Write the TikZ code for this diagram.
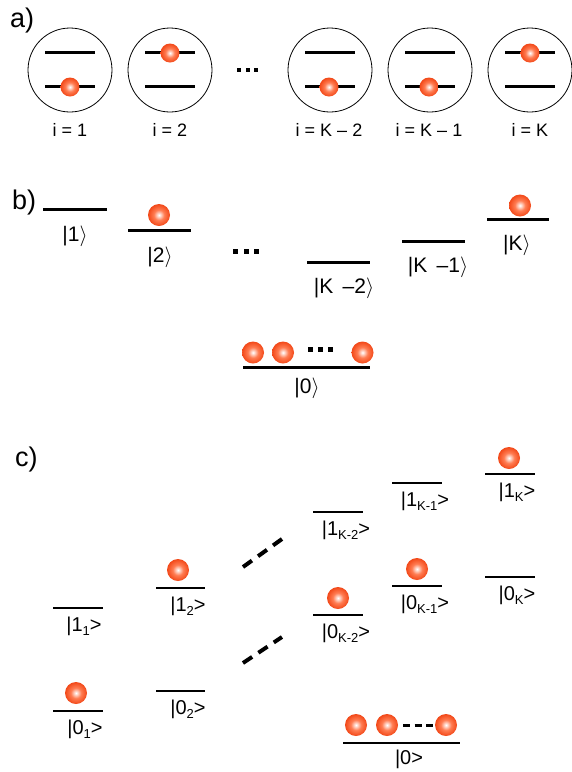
\documentclass[tikz,border=0pt]{standalone}
\usepackage{fontspec}
\setmainfont{Liberation Sans}
\definecolor{ballA}{HTML}{FF7C52}
\definecolor{ballB}{HTML}{F24818}
\pgfdeclareradialshading{orb}{\pgfpoint{0bp}{0bp}}{color(0bp)=(white); color(2bp)=(white!85!ballA); color(12bp)=(ballA); color(25bp)=(ballB); color(50bp)=(ballB)}
\newcommand{\sbs}[1]{\raisebox{-4pt}{\fontsize{13}{13}\selectfont #1}}
\begin{document}
\begin{tikzpicture}[x=1pt,y=-1pt,
  lab/.style={font=\fontsize{18}{18}\selectfont, inner sep=0pt, anchor=base},
  ket/.style={font=\fontsize{20}{20}\selectfont, inner sep=0pt, anchor=base},
  ketb/.style={font=\fontsize{21}{21}\selectfont, inner sep=0pt, anchor=base},
  panel/.style={font=\fontsize{27}{27}\selectfont, inner sep=0pt, anchor=base west},
  atom/.style={circle, draw, line width=0.8pt, minimum size=84pt, inner sep=0pt},
  lvla/.style={line width=2.5pt},
  lvlb/.style={line width=3pt},
  lvlc/.style={line width=1.7pt},
  ball/.style={circle, inner sep=0pt, minimum size=22pt, shading=orb},
  sball/.style={circle, inner sep=0pt, minimum size=19pt, shading=orb},
  sq/.style={rectangle, fill=black, inner sep=0pt, minimum size=#1},
  sq/.default=5pt
]
\useasboundingbox (0,0) rectangle (571,772);

% ---------------- panel a ----------------
\node[panel] (pa) at (10,27) {a)};
\foreach \cx/\nm in {70/a1,170/a2,330/a3,430/a4,530/a5}{
  \node[atom] (\nm) at (\cx,70) {};
  \draw[lvla] (\cx-25,52.7) -- (\cx+25,52.7);
  \draw[lvla] (\cx-25,86.7) -- (\cx+25,86.7);
}
\node[sball] (ba1) at (70,87) {};
\node[sball] (ba2) at (170,53) {};
\node[sball] (ba3) at (329,87) {};
\node[sball] (ba4) at (429,87) {};
\node[sball] (ba5) at (530,53) {};
\node[lab] (la1) at (70,136) {i = 1};
\node[lab] (la2) at (170,136) {i = 2};
\node[lab] (la3) at (329,136) {i = K – 2};
\node[lab] (la4) at (429,136) {i = K – 1};
\node[lab] (la5) at (530,136) {i = K};
\node[sq=4pt] (da1) at (239,70) {};
\node[sq=4pt] (da2) at (247.5,70) {};
\node[sq=4pt] (da3) at (256,70) {};

% ---------------- panel b ----------------
\node[panel] (pb) at (12,209) {b)};
\draw[lvlb] (43,209) -- (107,209);
\draw[lvlb] (128,230) -- (191,230);
\draw[lvlb] (307,262) -- (370,262);
\draw[lvlb] (402,241) -- (465,241);
\draw[lvlb] (487,219) -- (549,219);
\draw[lvlb] (243,367) -- (370,367);
\node[ball] (bb2) at (159,215) {};
\node[ball] (bbK) at (520,205.5) {};
\node[ball] (bg1) at (253,352.5) {};
\node[ball] (bg2) at (283,352.5) {};
\node[ball] (bg3) at (362.5,352.5) {};
\node[sq] (db1) at (235.5,251) {};
\node[sq] (db2) at (246,251) {};
\node[sq] (db3) at (256.5,251) {};
\node[sq] (dg1) at (310.5,349.5) {};
\node[sq] (dg2) at (320.5,349.5) {};
\node[sq] (dg3) at (330.5,349.5) {};
\node[ketb] (k1) at (75,241) {|1$\rangle$};
\node[ketb] (k2) at (160,262) {|2$\rangle$};
\node[ketb] (kK2) at (344,293) {|K \,–2$\rangle$};
\node[ketb] (kK1) at (438,272) {|K \,–1$\rangle$};
\node[ketb] (kK) at (517,250) {|K$\rangle$};
\node[ketb] (k0) at (307,393) {|0$\rangle$};

% ---------------- panel c ----------------
\node[panel] (pc) at (15,466) {c)};
\draw[lvlc] (53,608) -- (103,608);
\draw[lvlc] (53,711) -- (103,711);
\draw[lvlc] (156,588) -- (205,588);
\draw[lvlc] (156,691) -- (205,691);
\draw[lvlc] (313,512) -- (363,512);
\draw[lvlc] (313,615) -- (363,615);
\draw[lvlc] (392,483) -- (442,483);
\draw[lvlc] (392,586) -- (442,586);
\draw[lvlc] (485,474) -- (535,474);
\draw[lvlc] (485,577) -- (535,577);
\draw[lvlc] (343,743) -- (460,743);
\node[ball] (bc1) at (76,693) {};
\node[ball] (bc2) at (178,570) {};
\node[ball] (bc3) at (338,598) {};
\node[ball] (bc4) at (417,569) {};
\node[ball] (bc5) at (509,458) {};
\node[ball] (bcg1) at (356,725) {};
\node[ball] (bcg2) at (387,725) {};
\node[ball] (bcg3) at (446,725) {};
\coordinate (gd1) at (403,725);
\coordinate (gd2) at (433,725);
\draw[line width=3pt, dash pattern=on 7pt off 4.5pt] (gd1) -- (gd2);
\coordinate (du1) at (243,567);
\coordinate (du2) at (282,539);
\coordinate (dl1) at (243,663);
\coordinate (dl2) at (282,637);
\draw[line width=4pt, dash pattern=on 11pt off 7.5pt] (du1) -- (du2);
\draw[line width=4pt, dash pattern=on 11pt off 7.5pt] (dl1) -- (dl2);
\node[ket] (c11) at (84,631) {|1\sbs{1}>};
\node[ket] (c01) at (85,734) {|0\sbs{1}>};
\node[ket] (c12) at (188,611) {|1\sbs{2}>};
\node[ket] (c02) at (188,714) {|0\sbs{2}>};
\node[ket] (c1K2) at (346,535) {|1\sbs{K-2}>};
\node[ket] (c0K2) at (346,638) {|0\sbs{K-2}>};
\node[ket] (c1K1) at (425,506) {|1\sbs{K-1}>};
\node[ket] (c0K1) at (425,609) {|0\sbs{K-1}>};
\node[ket] (c1K) at (517,497) {|1\sbs{K}>};
\node[ket] (c0K) at (517,600) {|0\sbs{K}>};
\node[ket] (c0) at (409,764) {|0>};
\end{tikzpicture}
\end{document}
